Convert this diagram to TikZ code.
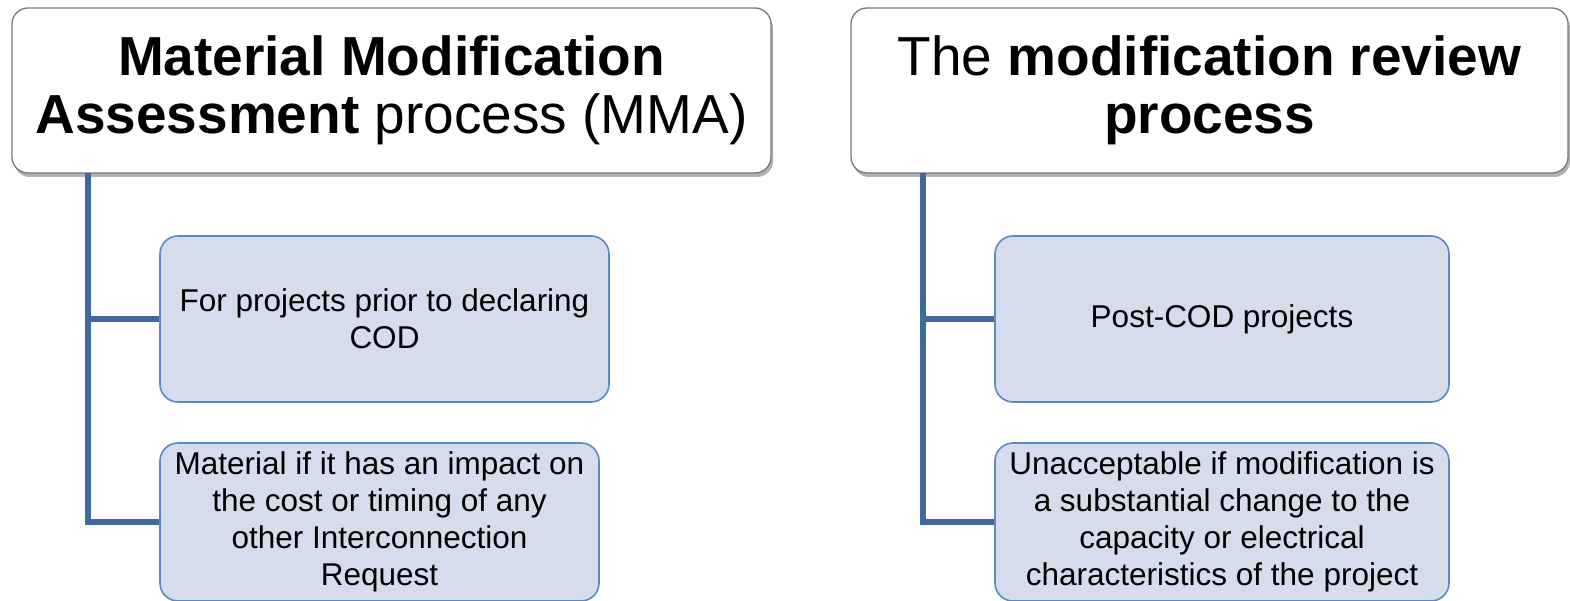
\documentclass[tikz,border=0pt]{standalone}
\usepackage{fontspec}
\setmainfont{Liberation Sans}
\usetikzlibrary{shadows}
\definecolor{trunkblue}{RGB}{65,105,160}
\definecolor{boxblue}{RGB}{213,220,235}
\definecolor{boxedge}{RGB}{92,136,196}
\definecolor{headgray}{RGB}{120,120,120}
\begin{document}
\begin{tikzpicture}[x=1pt,y=-1pt]
	\tikzstyle{head}=[shape=rectangle,rounded corners=16pt,draw=headgray,line width=1.3pt,fill=white,
		drop shadow={shadow xshift=2pt,shadow yshift=-4pt,fill=black,opacity=0.3},
		inner sep=0pt,align=center,font=\fontsize{55}{58}\selectfont]
	\tikzstyle{sub}=[shape=rectangle,rounded corners=18pt,draw=boxedge,line width=1.6pt,fill=boxblue,
		inner sep=0pt,align=center,font=\fontsize{31.5}{37}\selectfont]
	\tikzstyle{trunk}=[draw=trunkblue,line width=6pt]

	\useasboundingbox (0,0) rectangle (1570,601);

	%%%
	\node (hMMA) at (391.5,90.5) [head, minimum width=759pt, minimum height=165pt]
		{\textbf{Material Modification}\\\textbf{Assessment} process (MMA)};
	\node (mmaA) at (384.5,319) [sub, minimum width=449pt, minimum height=166pt]
		{For projects prior to declaring\\COD};
	\node (mmaB) at (379.5,522) [sub, minimum width=439pt, minimum height=158pt]
		{Material if it has an impact on\\the cost or timing of any\\other Interconnection\\Request};

	\coordinate (trunkMMA) at (88,173);
	\draw[trunk] (trunkMMA) |- (mmaA.west);
	\draw[trunk] (trunkMMA) |- (mmaB.west);

	%%%
	\node (hRev) at (1209.5,90.5) [head, minimum width=717pt, minimum height=165pt]
		{The \textbf{modification review}\\\textbf{process}};
	\node (revA) at (1222,319) [sub, minimum width=454pt, minimum height=166pt]
		{Post-COD projects};
	\node (revB) at (1222,522) [sub, minimum width=454pt, minimum height=158pt]
		{Unacceptable if modification is\\a substantial change to the\\capacity or electrical\\characteristics of the project};

	\coordinate (trunkRev) at (923,173);
	\draw[trunk] (trunkRev) |- (revA.west);
	\draw[trunk] (trunkRev) |- (revB.west);
\end{tikzpicture}
\end{document}
